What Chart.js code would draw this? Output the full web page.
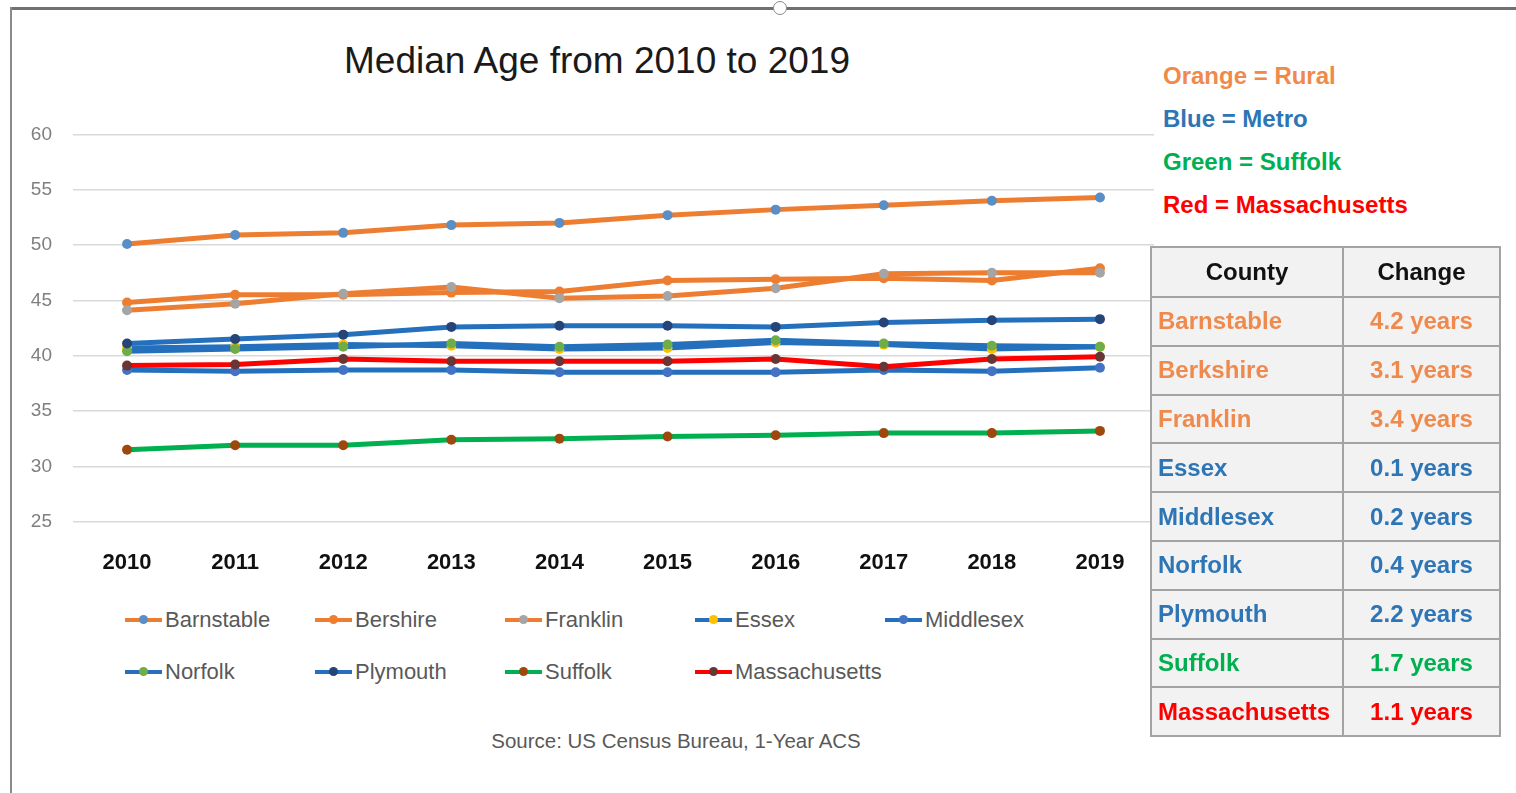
<!DOCTYPE html>
<html>
<head>
<meta charset="utf-8">
<script src="https://cdn.jsdelivr.net/npm/chart.js@4.4.1/dist/chart.umd.min.js"></script>
<style>
  body { margin: 0; background: #fff; width: 1516px; height: 793px; overflow: hidden; position: relative;
         font-family: "Liberation Sans", Arial, sans-serif; }
  #frameTop { position: absolute; left: 10px; top: 7px; width: 1506px; height: 3px; background: #707070; }
  #frameLeft { position: absolute; left: 10px; top: 7px; width: 2px; height: 786px; background: #8a8a8a; }
  #handle { position: absolute; left: 773px; top: 1px; width: 12px; height: 12px; border-radius: 50%;
            background: #fff; border: 1.5px solid #8a8a8a; }
  #title { position: absolute; left: 297px; width: 600px; top: 40px; text-align: center; font-size: 37px; color: #1a1a1a; }
  #wrap { position: absolute; left: 15px; top: 102px; width: 1144px; height: 494px; }
  #legend { position: absolute; left: 125px; top: 600px; display: grid; grid-template-columns: repeat(5, 190px);
            row-gap: 12px; font-size: 22px; color: #595959; }
  .item { display: flex; align-items: center; height: 40px; }
  .sym { position: relative; width: 37px; height: 4px; margin-right: 3px; }
  .dot { position: absolute; left: 14px; top: -3px; width: 9px; height: 9px; border-radius: 50%; }
  #source { position: absolute; left: 376px; width: 600px; top: 729px; text-align: center; font-size: 20.5px; color: #595959; }
  #key { position: absolute; left: 1163px; top: 54px; font-size: 24px; font-weight: bold; line-height: 43px; }
  table { position: absolute; left: 1150px; top: 246px; width: 351px; border-collapse: collapse;
          font-size: 24px; font-weight: bold; }
  td { border: 2px solid #a3a3a3; background: #f2f2f2; height: 48.8px; padding: 0 6px; box-sizing: border-box; white-space: nowrap; }
  td.c { text-align: center; width: 157px; }
  tr.h td { text-align: center; color: #111; height: 50px; }
</style>
</head>
<body>
<div id="frameTop"></div><div id="frameLeft"></div><div id="handle"></div>
<div id="title">Median Age from 2010 to 2019</div>
<div id="wrap"><canvas id="chart"></canvas></div>
<div id="legend"></div>
<div id="source">Source: US Census Bureau, 1-Year ACS</div>
<div id="key"></div>
<table id="tbl"></table>
<script>
var years = ['2010', '2011', '2012', '2013', '2014', '2015', '2016', '2017', '2018', '2019']
var yTicks = [25, 30, 35, 40, 45, 50, 55, 60]

var seriesNames = ['Barnstable', 'Bershire', 'Franklin', 'Essex', 'Middlesex', 'Norfolk', 'Plymouth', 'Suffolk', 'Massachusetts']
var barnstable = [50.1, 50.9, 51.1, 51.8, 52.0, 52.7, 53.2, 53.6, 54.0, 54.3]
var bershire = [44.8, 45.5, 45.5, 45.7, 45.8, 46.8, 46.9, 47.0, 46.8, 47.9]
var franklin = [44.1, 44.7, 45.6, 46.2, 45.2, 45.4, 46.1, 47.4, 47.5, 47.5]
var essex = [40.7, 40.8, 41.0, 40.9, 40.6, 40.7, 41.2, 41.0, 40.6, 40.8]
var middlesex = [38.7, 38.6, 38.7, 38.7, 38.5, 38.5, 38.5, 38.7, 38.6, 38.9]
var norfolk = [40.4, 40.6, 40.8, 41.1, 40.8, 41.0, 41.4, 41.1, 40.9, 40.8]
var plymouth = [41.1, 41.5, 41.9, 42.6, 42.7, 42.7, 42.6, 43.0, 43.2, 43.3]
var suffolk = [31.5, 31.9, 31.9, 32.4, 32.5, 32.7, 32.8, 33.0, 33.0, 33.2]
var massachusetts = [39.1, 39.2, 39.7, 39.5, 39.5, 39.5, 39.7, 39.0, 39.7, 39.9]
var allValues = [barnstable, bershire, franklin, essex, middlesex, norfolk, plymouth, suffolk, massachusetts]

var lineColors = ['#ED7D31', '#ED7D31', '#ED7D31', '#2470BC', '#2470BC', '#2470BC', '#2470BC', '#00B050', '#FF0000']
var markerColors = ['#5B8EC4', '#ED7D31', '#A5A5A5', '#FFC000', '#4472C4', '#70AD47', '#264478', '#9E480E', '#6A3535']

var keyLines = ['Orange = Rural', 'Blue = Metro', 'Green = Suffolk', 'Red = Massachusetts']
var keyColors = ['#F08A4B', '#2E75B6', '#00B050', '#FF0000']

var tableCounties = ['Barnstable', 'Berkshire', 'Franklin', 'Essex', 'Middlesex', 'Norfolk', 'Plymouth', 'Suffolk', 'Massachusetts']
var tableChanges = ['4.2 years', '3.1 years', '3.4 years', '0.1 years', '0.2 years', '0.4 years', '2.2 years', '1.7 years', '1.1 years']
var tableColors = ['#EE8A4E', '#EE8A4E', '#EE8A4E', '#2E75B6', '#2E75B6', '#2E75B6', '#2E75B6', '#00B050', '#FF0000']

var fontFamily = '"Liberation Sans", Arial, sans-serif'

window.onload = () => {
    var datasets = []
    for (var i = 0; i < seriesNames.length; i++) {
        datasets.push({
            label: seriesNames[i],
            data: allValues[i],
            borderColor: lineColors[i],
            backgroundColor: markerColors[i],
            pointBackgroundColor: markerColors[i],
            pointBorderColor: markerColors[i],
            pointBorderWidth: 0,
            pointRadius: 5,
            borderWidth: 5,
            tension: 0,
            order: seriesNames.length - 1 - i
        })
    }

    var ctx = document.getElementById('chart').getContext('2d')
    var myChart = new Chart(ctx, {
        type: 'line',
        data: { labels: years, datasets: datasets },
        options: {
            responsive: true,
            maintainAspectRatio: false,
            animation: false,
            layout: { padding: { top: 24, right: 1, left: 0, bottom: 0 } },
            plugins: { legend: { display: false }, tooltip: { enabled: false } },
            scales: {
                x: {
                    offset: true,
                    grid: { display: false },
                    border: { display: false },
                    ticks: { color: '#111', padding: 20, font: { family: fontFamily, size: 22, weight: 'bold' } }
                },
                y: {
                    min: 25, max: 60,
                    afterBuildTicks: (scale) => { scale.ticks = yTicks.map(v => ({ value: v })) },
                    afterFit: (scale) => { scale.width = 58 },
                    grid: { color: '#d9d9d9', lineWidth: 1.5, drawTicks: false },
                    border: { display: false },
                    ticks: { color: '#7f7f7f', padding: 21, font: { family: fontFamily, size: 19 } }
                }
            }
        }
    })

    // legend in a fixed grid, like the spreadsheet one
    var legend = document.getElementById('legend')
    for (var i = 0; i < seriesNames.length; i++) {
        var item = document.createElement('div')
        item.className = 'item'
        item.innerHTML = '<span class="sym" style="background:' + lineColors[i] + '"><span class="dot" style="background:' +
            markerColors[i] + '"></span></span>' + seriesNames[i]
        legend.append(item)
    }

    var key = document.getElementById('key')
    for (var i = 0; i < keyLines.length; i++) {
        var d = document.createElement('div')
        d.style.color = keyColors[i]
        d.innerHTML = keyLines[i]
        key.append(d)
    }

    var tbl = document.getElementById('tbl')
    tbl.innerHTML = '<tr class="h"><td>County</td><td class="c">Change</td></tr>'
    for (var i = 0; i < tableCounties.length; i++) {
        var tr = document.createElement('tr')
        tr.innerHTML = '<td style="color:' + tableColors[i] + '">' + tableCounties[i] + '</td><td class="c" style="color:' +
            tableColors[i] + '">' + tableChanges[i] + '</td>'
        tbl.append(tr)
    }
}
</script>
</body>
</html>
